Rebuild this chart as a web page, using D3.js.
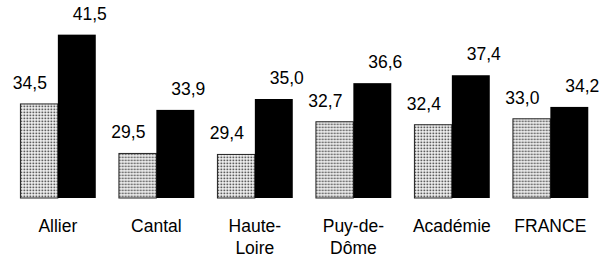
<!DOCTYPE html>
<html>
<head>
<meta charset="utf-8">
<script src="https://cdn.jsdelivr.net/npm/d3@7"></script>
<style>
  body { margin: 0; background: #fff; }
  text { font-family: "Liberation Sans", Arial, sans-serif; }
</style>
</head>
<body>
<div id="vis-container"></div>
<script>
// ------------------------------ DATA ------------------------------ //
const categories = ["Allier", "Cantal", "Haute-Loire", "Puy-de-Dôme", "Académie", "FRANCE"];
const categoryLines = [["Allier"], ["Cantal"], ["Haute-", "Loire"], ["Puy-de-", "Dôme"], ["Académie"], ["FRANCE"]];
const seriesA = [34.5, 29.5, 29.4, 32.7, 32.4, 33.0];  // dotted bars
const seriesB = [41.5, 33.9, 35.0, 36.6, 37.4, 34.2];  // black bars

// ------------------------------ SET UP ------------------------------ //
const width = 609;
const height = 259;
const baseline = 198;
const fontSize = 17.5;

const svg = d3.select("#vis-container")
  .append("svg")
  .attr("width", width)
  .attr("height", height);

// Dotted fill pattern
const pattern = svg.append("defs")
  .append("pattern")
  .attr("id", "dots")
  .attr("patternUnits", "userSpaceOnUse")
  .attr("width", 3)
  .attr("height", 3);
pattern.append("rect").attr("width", 3).attr("height", 3).attr("fill", "#fff");
pattern.append("rect").attr("x", 0.5).attr("y", 0.5).attr("width", 1.8).attr("height", 1.8).attr("fill", "#555");

// Scales
const xScale = d3.scaleBand()
  .domain(categories)
  .range([8.6, 599.6])
  .paddingInner(0.23)
  .paddingOuter(0.115);

const xSub = d3.scaleBand()
  .domain(["a", "b"])
  .range([0, xScale.bandwidth()]);

const yScale = d3.scaleLinear()
  .domain([25, 45])
  .range([baseline, baseline - 9.9 * 20]);

const rows = categories.map((c, i) => ({ cat: c, lines: categoryLines[i], a: seriesA[i], b: seriesB[i] }));

const groups = svg.selectAll(".group")
  .data(rows)
  .enter()
  .append("g")
  .attr("class", "group")
  .attr("transform", (d) => `translate(${xScale(d.cat)},0)`);

// Dotted bars
groups.append("rect")
  .attr("x", xSub("a") + 0.5)
  .attr("y", (d) => yScale(d.a))
  .attr("width", xSub.bandwidth() - 0.5)
  .attr("height", (d) => yScale(25) - yScale(d.a))
  .attr("fill", "url(#dots)")
  .attr("stroke", "#222")
  .attr("stroke-width", 1);

// Black bars
groups.append("rect")
  .attr("x", xSub("b"))
  .attr("y", (d) => yScale(d.b))
  .attr("width", xSub.bandwidth())
  .attr("height", (d) => yScale(25) - yScale(d.b))
  .attr("fill", "#000");

// Value labels
const fmt = (v) => v.toFixed(1).replace(".", ",");

groups.append("text")
  .attr("x", xSub("a") + xSub.bandwidth() / 2 - 9)
  .attr("y", (d) => yScale(d.a) - 15)
  .attr("text-anchor", "middle")
  .attr("font-size", fontSize)
  .attr("fill", "#000")
  .text((d) => fmt(d.a));

groups.append("text")
  .attr("x", xSub("b") + xSub.bandwidth() / 2 + 13)
  .attr("y", (d) => yScale(d.b) - 15)
  .attr("text-anchor", "middle")
  .attr("font-size", fontSize)
  .attr("fill", "#000")
  .text((d) => fmt(d.b));

// Category labels
groups.append("text")
  .attr("x", xScale.bandwidth() / 2)
  .attr("y", 232)
  .attr("text-anchor", "middle")
  .attr("font-size", fontSize)
  .attr("fill", "#000")
  .selectAll("tspan")
  .data((d) => d.lines)
  .enter()
  .append("tspan")
  .attr("x", xScale.bandwidth() / 2)
  .attr("dy", (d, i) => i === 0 ? 0 : 22)
  .text((d) => d);
</script>
</body>
</html>
